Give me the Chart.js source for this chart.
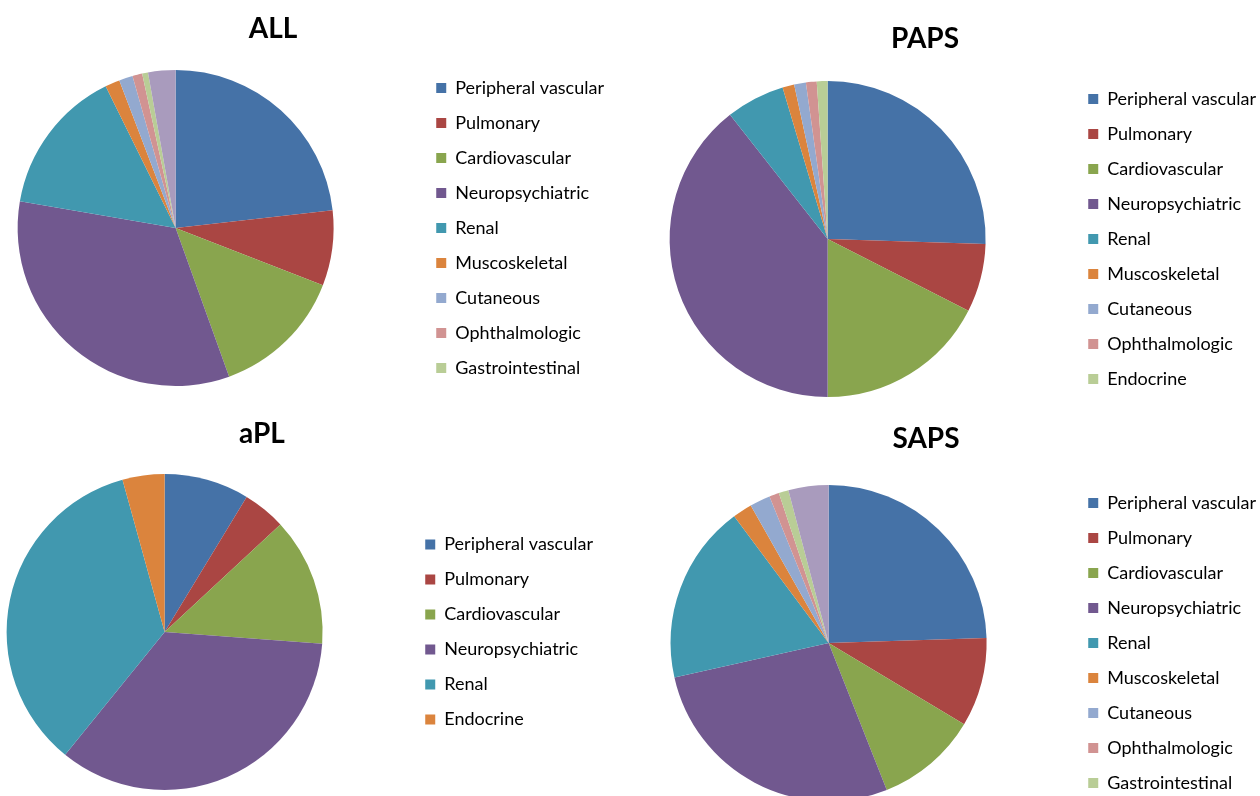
<!DOCTYPE html>
<html>
<head>
<meta charset="utf-8">
<script src="https://cdn.jsdelivr.net/npm/chart.js@4.4.1/dist/chart.umd.min.js"></script>
<style>
  html, body { margin:0; padding:0; background:#fff; width:1260px; height:796px; overflow:hidden; position:relative; }
  canvas { position:absolute; }
</style>
</head>
<body>
<canvas id="cAll"></canvas>
<canvas id="cPaps"></canvas>
<canvas id="cApl"></canvas>
<canvas id="cSaps"></canvas>
<script>
// ---- data ----
const labelsAll  = ['Peripheral vascular','Pulmonary','Cardiovascular','Neuropsychiatric','Renal','Muscoskeletal','Cutaneous','Ophthalmologic','Gastrointestinal','Endocrine'];
const valuesAll  = [23.2, 7.7, 13.6, 33.2, 15.0, 1.5, 1.4, 1.0, 0.6, 2.8];

const labelsPaps = ['Peripheral vascular','Pulmonary','Cardiovascular','Neuropsychiatric','Renal','Muscoskeletal','Cutaneous','Ophthalmologic','Endocrine'];
const valuesPaps = [25.5, 7.0, 17.5, 39.4, 6.0, 1.2, 1.2, 1.1, 1.1];

const labelsApl  = ['Peripheral vascular','Pulmonary','Cardiovascular','Neuropsychiatric','Renal','Endocrine'];
const valuesApl  = [8.7, 4.4, 13.1, 34.7, 34.9, 4.3];

const labelsSaps = ['Peripheral vascular','Pulmonary','Cardiovascular','Neuropsychiatric','Renal','Muscoskeletal','Cutaneous','Ophthalmologic','Gastrointestinal','Endocrine'];
const valuesSaps = [24.5, 9.1, 10.4, 27.5, 18.3, 2.0, 2.1, 1.0, 1.0, 4.1];

const palette = ['#4572A7','#AA4643','#89A54E','#71588F','#4198AF','#DB843D','#93A9CF','#D19392','#B9CD96','#A99BBD'];

// legend shows at most 9 entries (as in the source)
const legendMax = 9;

function makePie(id, title, labels, values, box) {
  const cv = document.getElementById(id);
  cv.width = box.w; cv.height = box.h;
  cv.style.left = box.x + 'px'; cv.style.top = box.y + 'px';
  cv.style.width = box.w + 'px'; cv.style.height = box.h + 'px';
  new Chart(cv, {
    type: 'pie',
    data: {
      labels: labels,
      datasets: [{
        data: values,
        backgroundColor: palette.slice(0, values.length),
        borderWidth: 0,
        hoverOffset: 0
      }]
    },
    options: {
      responsive: false,
      animation: false,
      devicePixelRatio: 1,
      layout: { padding: 0 },
      plugins: {
        tooltip: { enabled: false },
        title: {
          display: true,
          text: title,
          color: '#000',
          font: { family: 'Lato', size: 28, weight: 'bold' },
          padding: { top: box.pt, bottom: box.pb }
        },
        subtitle: {
          // empty spacer below the pie so the legend centres on the pie
          display: true,
          position: 'bottom',
          fullSize: false,
          text: ' ',
          font: { size: 10 },
          padding: { top: box.s - 12, bottom: 0 }
        },
        legend: {
          display: true,
          position: 'right',
          align: 'center',
          labels: {
            color: '#000',
            font: { family: 'Lato', size: 18 },
            boxWidth: 10,
            boxHeight: 10,
            padding: 17,
            filter: (item) => item.index < legendMax
          }
        }
      }
    }
  });
}

makePie('cAll',  'ALL',  labelsAll,  valuesAll,  { x: -68, y: 0,   w: 682, h: 456, pt: 12.5, pb: 23.9, s: 70 });
makePie('cPaps', 'PAPS', labelsPaps, valuesPaps, { x: 584, y: 0,   w: 682, h: 478, pt: 22.5, pb: 24.9, s: 81 });
makePie('cApl',  'aPL',  labelsApl,  valuesApl,  { x: -79, y: 400, w: 682, h: 464, pt: 17.5, pb: 22.9, s: 74 });
makePie('cSaps', 'SAPS', labelsSaps, valuesSaps, { x: 586, y: 400, w: 680, h: 486, pt: 22.5, pb: 28.9, s: 85 });
</script>
</body>
</html>
